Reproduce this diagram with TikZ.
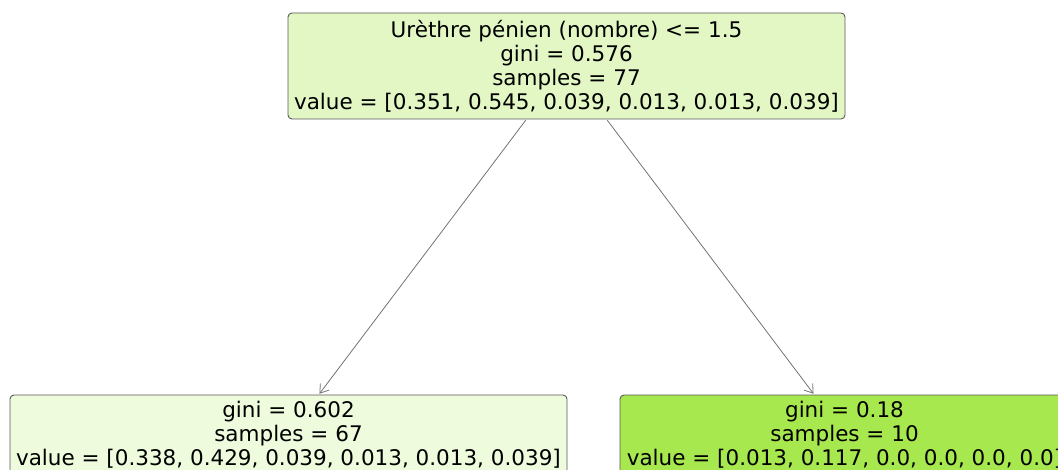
\documentclass[tikz,border=0pt]{standalone}
\usepackage{xcolor}
\usepackage{fontspec}
\setmainfont{DejaVu Sans}
\usetikzlibrary{shapes.geometric, arrows, arrows.meta}
\definecolor{rootfill}{RGB}{226,247,196}
\definecolor{leftfill}{RGB}{238,251,221}
\definecolor{rightfill}{RGB}{168,232,79}
\tikzstyle{treenode} = [rectangle, rounded corners=4pt, align=center, draw=black!65, line width=0.9pt, inner sep=0pt, font=\fontsize{21.5}{24}\selectfont]
\tikzstyle{split} = [treenode, minimum width=557pt, minimum height=106pt, fill=rootfill]
\tikzstyle{leaf} = [treenode, minimum width=557pt, minimum height=80pt]
\tikzstyle{arrow} = [-{Straight Barb[length=8pt,width=11pt]}, draw=black!55, line width=0.8pt, shorten >=1pt, shorten <=1pt]

\begin{document}
\begin{tikzpicture}[x=1pt, y=-1pt]
\useasboundingbox (0,0) rectangle (1058,470);
\clip (0,0) rectangle (1058,470);
\node (root) [split] at (566.5,66) {Urèthre pénien (nombre) <= 1.5\\gini = 0.576\\samples = 77\\value = [0.351, 0.545, 0.039, 0.013, 0.013, 0.039]};
\node (lleaf) [leaf, fill=leftfill] at (288.5,435) {gini = 0.602\\samples = 67\\value = [0.338, 0.429, 0.039, 0.013, 0.013, 0.039]};
\node (rleaf) [leaf, fill=rightfill, minimum width=449pt] at (844.5,435) {gini = 0.18\\samples = 10\\value = [0.013, 0.117, 0.0, 0.0, 0.0, 0.0]};

\draw[arrow] (root) -- (lleaf);
\draw[arrow] (root) -- (rleaf);
\end{tikzpicture}
\end{document}
